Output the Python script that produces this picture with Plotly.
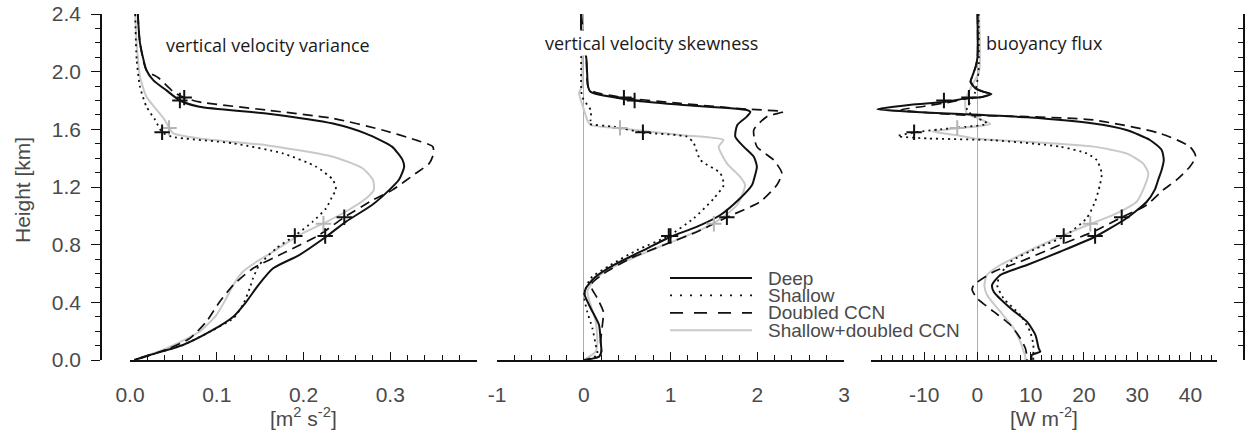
import plotly.graph_objects as go

# ---------------------------------------------------------------- data
series_names = ["Deep", "Shallow", "Doubled CCN", "Shallow+doubled CCN"]

# vertical velocity variance [m2 s-2] vs height [km]
var_deep_h = [2.40, 2.20, 2.01, 1.94, 1.87, 1.80, 1.757, 1.71, 1.64, 1.57, 1.48, 1.39, 1.34, 1.25, 1.18,
              1.075, 0.96, 0.855, 0.728, 0.636, 0.52, 0.404, 0.30, 0.196, 0.104, 0.035, 0.0]
var_deep = [0.009, 0.0115, 0.019, 0.027, 0.042, 0.0575, 0.080, 0.157, 0.234, 0.272, 0.302, 0.314, 0.316,
            0.310, 0.299, 0.279, 0.249, 0.226, 0.195, 0.165, 0.148, 0.134, 0.119, 0.092, 0.061, 0.023, 0.005]
var_shallow_h = [2.40, 2.08, 1.896, 1.757, 1.665, 1.58, 1.549, 1.503, 1.433, 1.341, 1.249, 1.18, 1.144,
                 1.052, 0.96, 0.862, 0.775, 0.659, 0.567, 0.497, 0.381, 0.289, 0.196, 0.104, 0.035, 0.0]
var_shallow = [0.006, 0.0077, 0.0115, 0.019, 0.029, 0.037, 0.048, 0.119, 0.176, 0.2146, 0.234, 0.2375,
               0.234, 0.226, 0.2107, 0.190, 0.1686, 0.149, 0.1418, 0.138, 0.130, 0.119, 0.092, 0.061, 0.023, 0.005]
var_doubled_h = [2.40, 2.20, 2.01, 1.956, 1.86, 1.82, 1.79, 1.734, 1.676, 1.595, 1.526, 1.48, 1.433, 1.364,
                 1.295, 1.18, 1.11, 0.99, 0.867, 0.751, 0.636, 0.52, 0.404, 0.266, 0.15, 0.08, 0.0]
var_doubled = [0.009, 0.0115, 0.019, 0.033, 0.050, 0.0625, 0.080, 0.157, 0.234, 0.291, 0.3295, 0.349,
               0.350, 0.345, 0.3295, 0.3026, 0.28, 0.247, 0.218, 0.180, 0.142, 0.119, 0.1034, 0.088, 0.069,
               0.045, 0.005]
var_sdc_h = [2.40, 2.197, 1.965, 1.826, 1.734, 1.665, 1.613, 1.572, 1.537, 1.49, 1.41, 1.33, 1.25, 1.18,
             1.12, 1.03, 0.948, 0.867, 0.751, 0.682, 0.612, 0.52, 0.428, 0.312, 0.196, 0.081, 0.0]
var_sdc = [0.006, 0.0077, 0.0115, 0.019, 0.031, 0.040, 0.045, 0.050, 0.080, 0.157, 0.234, 0.268, 0.280,
           0.281, 0.272, 0.249, 0.223, 0.195, 0.165, 0.146, 0.130, 0.119, 0.111, 0.0996, 0.080, 0.042, 0.005]

# vertical velocity skewness [-] vs height [km]
skw_deep_h = [2.40, 2.29, 2.09, 1.896, 1.86, 1.80, 1.77, 1.734, 1.722, 1.688, 1.63, 1.549, 1.48, 1.41,
              1.341, 1.249, 1.214, 1.12, 1.006, 0.925, 0.855, 0.751, 0.659, 0.567, 0.497, 0.451, 0.359,
              0.243, 0.127, 0.058, 0.023, 0.0]
skw_deep = [-0.03, -0.03, 0.03, 0.05, 0.08, 0.586, 1.115, 1.88, 1.92, 1.88, 1.77, 1.747, 1.843, 1.96,
            1.996, 1.96, 1.94, 1.80, 1.575, 1.307, 1.0, 0.655, 0.348, 0.118, 0.023, 0.011, 0.08, 0.176,
            0.195, 0.203, 0.176, 0.004]
skw_shallow_h = [2.40, 2.10, 1.90, 1.827, 1.77, 1.734, 1.665, 1.64, 1.618, 1.578, 1.549, 1.503, 1.387,
                 1.295, 1.214, 1.12, 0.983, 0.862, 0.763, 0.659, 0.567, 0.451, 0.335, 0.22, 0.104, 0.035, 0.0]
skw_shallow = [-0.03, -0.03, -0.03, -0.02, 0.04, 0.08, 0.08, 0.06, 0.35, 0.682, 1.19, 1.268, 1.345, 1.575,
               1.613, 1.498, 1.268, 0.98, 0.617, 0.31, 0.08, 0.004, 0.04, 0.10, 0.138, 0.157, 0.004]
skw_doubled_h = [2.40, 2.09, 1.896, 1.86, 1.82, 1.78, 1.74, 1.722, 1.688, 1.595, 1.48, 1.387, 1.295, 1.214,
                 1.098, 0.99, 0.89, 0.798, 0.705, 0.601, 0.52, 0.428, 0.335, 0.243, 0.127, 0.058, 0.023, 0.0]
skw_doubled = [-0.03, 0.03, 0.05, 0.118, 0.463, 1.115, 1.88, 2.30, 2.11, 1.96, 1.996, 2.19, 2.284, 2.226,
               2.034, 1.65, 1.307, 0.923, 0.54, 0.234, 0.08, 0.157, 0.226, 0.215, 0.195, 0.203, 0.176, 0.004]
skw_sdc_h = [2.40, 2.10, 1.90, 1.85, 1.734, 1.665, 1.63, 1.607, 1.56, 1.526, 1.48, 1.364, 1.272, 1.214,
             1.075, 0.948, 0.844, 0.751, 0.647, 0.555, 0.474, 0.381, 0.266, 0.127, 0.058, 0.0]
skw_sdc = [-0.02, -0.02, -0.02, -0.054, 0.004, 0.04, 0.08, 0.418, 1.115, 1.61, 1.555, 1.65, 1.80, 1.86,
           1.767, 1.498, 1.115, 0.732, 0.348, 0.118, 0.042, 0.08, 0.138, 0.157, 0.138, 0.0]

# buoyancy flux [W m-2] vs height [km]
bf_deep_h = [2.40, 2.10, 2.03, 1.965, 1.93, 1.884, 1.86, 1.845, 1.822, 1.817, 1.79, 1.77, 1.74, 1.722,
             1.706, 1.683, 1.64, 1.595, 1.526, 1.457, 1.387, 1.318, 1.249, 1.18, 1.098, 0.983, 0.855,
             0.751, 0.659, 0.59, 0.52, 0.474, 0.359, 0.266, 0.173, 0.081, 0.058, 0.035, 0.0]
bf_deep = [0.0, 0.0, -0.37, -1.0, -1.3, -0.37, 1.18, 2.62, 0.56, -1.62, -6.3, -12.5, -18.8, -12.5, -3.2,
           9.3, 21.8, 28.0, 32.4, 34.6, 35.0, 34.6, 33.95, 33.3, 31.8, 28.0, 22.1, 15.5, 9.3, 4.3, 2.75,
           3.06, 6.2, 9.3, 10.9, 11.5, 11.8, 10.2, 10.2]
bf_shallow_h = [2.40, 2.00, 1.85, 1.78, 1.734, 1.688, 1.64, 1.60, 1.578, 1.553, 1.537, 1.524, 1.48, 1.433,
                1.387, 1.295, 1.214, 1.098, 0.983, 0.855, 0.786, 0.682, 0.59, 0.52, 0.428, 0.312, 0.196,
                0.104, 0.035, 0.0]
bf_shallow = [0.2, 0.2, -0.5, -1.5, -2.0, -0.5, 1.8, -7.0, -11.9, -15.0, -9.4, 3.0, 15.5, 20.5, 22.4,
              23.35, 23.0, 22.1, 20.5, 16.2, 11.8, 6.2, 4.3, 3.7, 4.9, 8.05, 9.9, 10.5, 10.5, 10.5]
bf_doubled_h = [2.40, 2.10, 2.03, 1.965, 1.93, 1.884, 1.86, 1.845, 1.822, 1.817, 1.79, 1.76, 1.735, 1.70,
                1.688, 1.665, 1.572, 1.48, 1.41, 1.341, 1.249, 1.18, 1.075, 0.99, 0.89, 0.798, 0.682,
                0.612, 0.52, 0.486, 0.428, 0.335, 0.243, 0.15, 0.081, 0.023, 0.0]
bf_doubled = [0.0, 0.0, -0.37, -1.0, -1.3, -0.37, 1.18, 2.5, 0.56, -1.6, -5.0, -10.0, -14.4, -3.2, 9.3,
              21.8, 34.3, 39.9, 41.0, 39.9, 37.4, 34.9, 31.8, 27.1, 21.8, 15.5, 8.05, 3.06, -0.7, -1.0,
              -0.06, 3.06, 6.2, 8.05, 9.0, 9.3, 9.3]
bf_sdc_h = [2.40, 2.00, 1.907, 1.80, 1.71, 1.688, 1.637, 1.607, 1.585, 1.56, 1.537, 1.514, 1.48, 1.433,
            1.364, 1.295, 1.214, 1.098, 1.006, 0.943, 0.855, 0.751, 0.659, 0.59, 0.52, 0.451, 0.335, 0.22,
            0.127, 0.058, 0.023, 0.0]
bf_sdc = [0.3, 0.3, -1.0, -2.3, -2.0, -0.7, 2.4, -3.8, -8.5, -4.0, -0.5, 9.3, 21.8, 28.0, 31.1, 32.1,
          31.5, 29.9, 25.5, 21.2, 15.5, 9.3, 4.3, 1.8, 1.3, 1.8, 4.3, 6.8, 8.05, 8.7, 9.0, 9.0]

# cloud top / cloud base heights [km] (Deep, Shallow, Doubled CCN, Shallow+doubled CCN)
cloud_top_km = [1.80, 1.58, 1.82, 1.61]
cloud_base_km = [0.86, 0.86, 0.99, 0.945]
var_at_top = [0.0575, 0.037, 0.0625, 0.045]
var_at_base = [0.225, 0.190, 0.247, 0.223]
skw_at_top = [0.586, 0.682, 0.463, 0.418]
skw_at_base = [1.0, 0.98, 1.65, 1.50]
bf_at_top = [-6.3, -11.9, -1.6, -3.8]
bf_at_base = [22.1, 16.2, 27.1, 21.2]

# axis ticks
height_ticks = [0.0, 0.4, 0.8, 1.2, 1.6, 2.0, 2.4]
height_labels = ["0.0", "0.4", "0.8", "1.2", "1.6", "2.0", "2.4"]
var_ticks = [0.0, 0.1, 0.2, 0.3]
var_labels = ["0.0", "0.1", "0.2", "0.3"]
skw_ticks = [-1, 0, 1, 2, 3]
skw_labels = ["-1", "0", "1", "2", "3"]
bf_ticks = [-10, 0, 10, 20, 30, 40]
bf_labels = ["-10", "0", "10", "20", "30", "40"]

panel_titles = ["vertical velocity variance", "vertical velocity skewness", "buoyancy flux"]
unit_labels = ["[m<sup>2</sup> s<sup>-2</sup>]", "", "[W m<sup>-2</sup>]"]

# ---------------------------------------------------------------- layout helpers
W, H = 1259, 433


def fx(p):
    return p / W


def fy(p):
    return 1 - p / H


BLACK = "#111111"
GREY = "#c9c9c9"
TEXT = "#4a4a4a"
TICK_FONT = dict(family="Liberation Sans, Arial, sans-serif", size=21, color=TEXT)

styles = {
    "Deep": dict(color=BLACK, width=2.0, dash="solid"),
    "Shallow": dict(color=BLACK, width=1.8, dash="2px,4px"),
    "Doubled CCN": dict(color=BLACK, width=1.7, dash="10px,6px"),
    "Shallow+doubled CCN": dict(color=GREY, width=2.0, dash="solid"),
}
marker_colors = {"Deep": BLACK, "Shallow": BLACK, "Doubled CCN": BLACK, "Shallow+doubled CCN": "#b5b5b5"}

panels = [
    ("x", {"Deep": (var_deep, var_deep_h), "Shallow": (var_shallow, var_shallow_h),
           "Doubled CCN": (var_doubled, var_doubled_h), "Shallow+doubled CCN": (var_sdc, var_sdc_h)},
     var_at_top, var_at_base),
    ("x2", {"Deep": (skw_deep, skw_deep_h), "Shallow": (skw_shallow, skw_shallow_h),
            "Doubled CCN": (skw_doubled, skw_doubled_h), "Shallow+doubled CCN": (skw_sdc, skw_sdc_h)},
     skw_at_top, skw_at_base),
    ("x3", {"Deep": (bf_deep, bf_deep_h), "Shallow": (bf_shallow, bf_shallow_h),
            "Doubled CCN": (bf_doubled, bf_doubled_h), "Shallow+doubled CCN": (bf_sdc, bf_sdc_h)},
     bf_at_top, bf_at_base),
]

draw_order = ["Shallow+doubled CCN", "Shallow", "Doubled CCN", "Deep"]

fig = go.Figure()
for xa, profiles, at_top, at_base in panels:
    for name in draw_order:
        vals, hts = profiles[name]
        fig.add_trace(go.Scatter(
            x=vals, y=hts, xaxis=xa, yaxis="y", mode="lines", name=name,
            line=dict(shape="spline", smoothing=0.6, **styles[name]),
            showlegend=False, hoverinfo="skip"))
    for name in draw_order:
        i = series_names.index(name)
        fig.add_trace(go.Scatter(
            x=[at_top[i], at_base[i]], y=[cloud_top_km[i], cloud_base_km[i]],
            xaxis=xa, yaxis="y", mode="markers",
            marker=dict(symbol="cross-thin", size=11, color=marker_colors[name],
                        line=dict(width=2, color=marker_colors[name])),
            showlegend=False, hoverinfo="skip"))

# right-hand frame axis needs a subplot to live on
fig.add_trace(go.Scatter(x=[], y=[], xaxis="x3", yaxis="y2", showlegend=False, hoverinfo="skip"))


def xaxis_cfg(left, right, rng, ticks, labels, minor_dt, zero):
    return dict(
        domain=[fx(left), fx(right)], range=rng, anchor="y", automargin=False,
        showline=True, linecolor=BLACK, linewidth=1.5, mirror=False,
        ticks="inside", ticklen=8, tickwidth=1.3, tickcolor=BLACK,
        tickmode="array", tickvals=ticks, ticktext=labels,
        minor=dict(tickmode="linear", tick0=0, dtick=minor_dt, ticks="inside", ticklen=5,
                   tickwidth=1.2, tickcolor=BLACK, showgrid=False),
        tickfont=TICK_FONT, ticklabelstandoff=15,
        showgrid=False, zeroline=zero, zerolinecolor="#aeaeae", zerolinewidth=1.2,
    )


fig.update_layout(
    template="none",
    width=W, height=H,
    margin=dict(l=0, r=0, t=0, b=0, pad=0),
    paper_bgcolor="white", plot_bgcolor="white",
    showlegend=False,
    xaxis=xaxis_cfg(130, 477, [0, 0.4], var_ticks, var_labels, 0.02, False),
    xaxis2=xaxis_cfg(497, 844, [-1, 3], skw_ticks, skw_labels, 0.2, True),
    xaxis3=xaxis_cfg(871, 1217, [-20, 45], bf_ticks, bf_labels, 2, True),
    yaxis=dict(
        domain=[fy(360), fy(14)], range=[0, 2.4], anchor="free", position=fx(101), automargin=False,
        showline=True, linecolor=BLACK, linewidth=1.5,
        ticks="outside", ticklen=9, tickwidth=1.3, tickcolor=BLACK,
        tickmode="array", tickvals=height_ticks, ticktext=height_labels,
        minor=dict(tickmode="linear", tick0=0, dtick=0.1, ticks="outside", ticklen=5,
                   tickwidth=1.2, tickcolor=BLACK, showgrid=False),
        tickfont=TICK_FONT, ticklabelstandoff=6,
        showgrid=False, zeroline=False,
    ),
    yaxis2=dict(
        overlaying="y", side="right", anchor="free", position=fx(1244), range=[0, 2.4], automargin=False,
        showline=True, linecolor=BLACK, linewidth=1.5,
        ticks="inside", ticklen=9, tickwidth=1.3, tickcolor=BLACK,
        tickmode="array", tickvals=height_ticks, showticklabels=False,
        minor=dict(tickmode="linear", tick0=0, dtick=0.1, ticks="inside", ticklen=5,
                   tickwidth=1.2, tickcolor=BLACK, showgrid=False),
        showgrid=False, zeroline=False,
    ),
)

TITLE_FONT = dict(family="Open Sans, Noto Sans, sans-serif", size=18, color="#1a1a1a")
annotations = [
    dict(text=panel_titles[0], x=fx(164), y=fy(45), xanchor="left", yanchor="middle"),
    dict(text=panel_titles[1], x=fx(544), y=fy(43), xanchor="left", yanchor="middle",
         bgcolor="white", borderpad=0),
    dict(text=panel_titles[2], x=fx(984), y=fy(43), xanchor="left", yanchor="middle"),
]
for a in annotations:
    fig.add_annotation(xref="paper", yref="paper", showarrow=False, font=TITLE_FONT, **a)

AXIS_FONT = dict(family="Liberation Sans, Arial, sans-serif", size=21, color=TEXT)
fig.add_annotation(text="Height [km]", x=fx(22), y=fy(190), xref="paper", yref="paper",
                   textangle=-90, showarrow=False, font=AXIS_FONT, xanchor="center", yanchor="middle")
fig.add_annotation(text=unit_labels[0], x=fx(303.5), y=fy(417), xref="paper", yref="paper",
                   showarrow=False, font=AXIS_FONT, xanchor="center", yanchor="middle")
fig.add_annotation(text=unit_labels[2], x=fx(1044), y=fy(417), xref="paper", yref="paper",
                   showarrow=False, font=AXIS_FONT, xanchor="center", yanchor="middle")

# legend block drawn inside the skewness panel
legend_dash = {"Deep": "solid", "Shallow": "2px,8px", "Doubled CCN": "13px,11px", "Shallow+doubled CCN": "solid"}
LEG_FONT = dict(family="Liberation Sans, Arial, sans-serif", size=19, color=TEXT)
for k, name in enumerate(series_names):
    row_y = 278 + 17.4 * k
    st = styles[name]
    fig.add_shape(type="line", xref="paper", yref="paper", x0=fx(670), x1=fx(752), y0=fy(row_y), y1=fy(row_y),
                  line=dict(color=st["color"], width=st["width"], dash=legend_dash[name]))
    fig.add_annotation(text=name, x=fx(766), y=fy(row_y), xref="paper", yref="paper", showarrow=False,
                       font=LEG_FONT, xanchor="left", yanchor="middle")

fig.write_html("out.html", config={"displayModeBar": False})
